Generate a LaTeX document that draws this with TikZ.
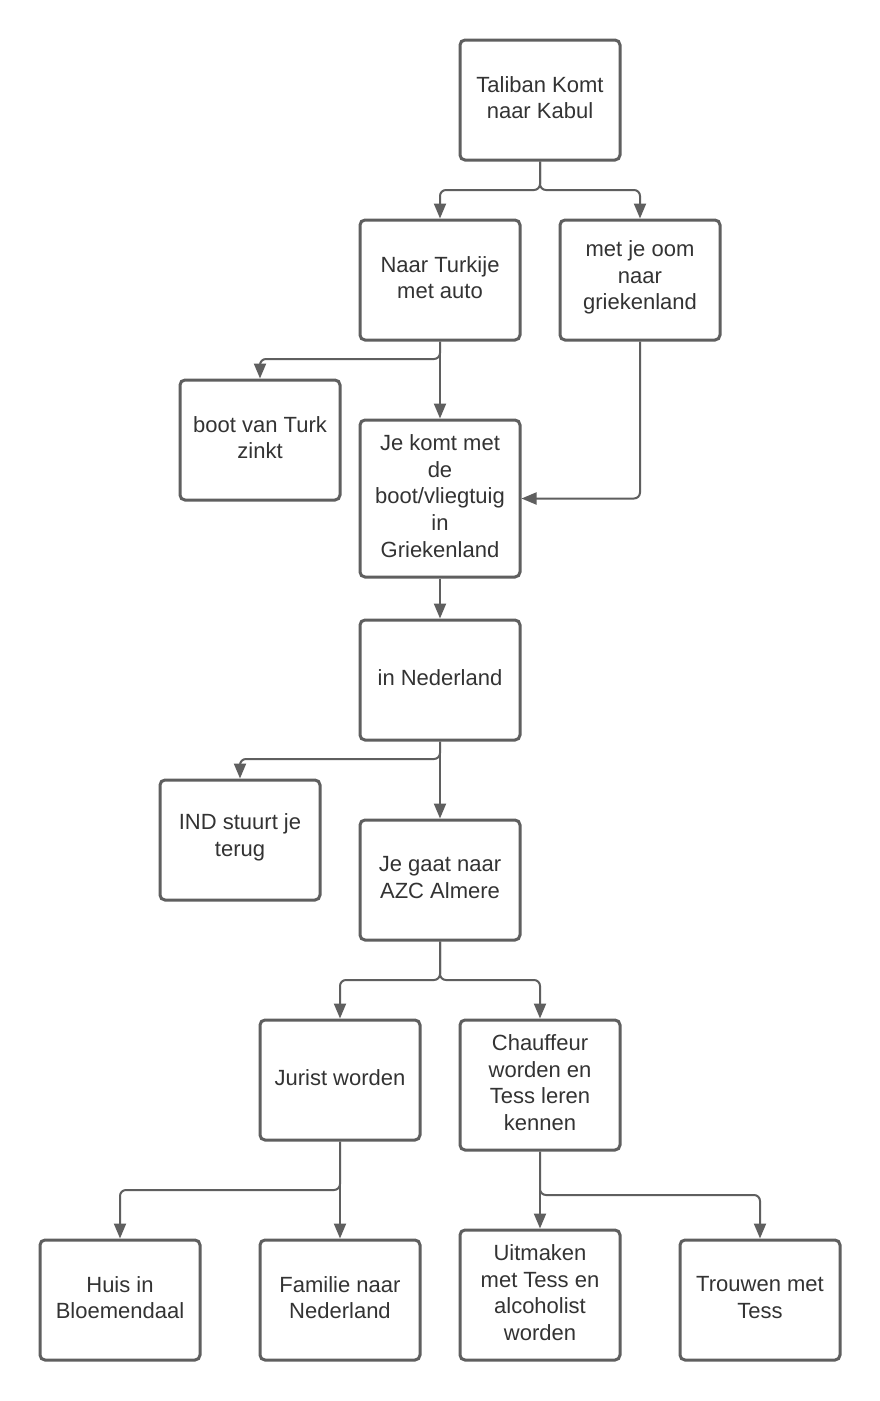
\documentclass[tikz,border=0pt]{standalone}
\usepackage{fontspec}
\setmainfont{Liberation Sans}
\usetikzlibrary{arrows.meta}
\definecolor{edgegray}{HTML}{5F5F5F}
\definecolor{txtgray}{HTML}{333333}
\begin{document}
\begin{tikzpicture}[x=1pt,y=-1pt,
  boxtext/.style={align=center, inner sep=0pt, text=txtgray,
    font=\fontsize{22}{26.6}\selectfont, yshift=2.5pt},
  box/.style={draw=edgegray, line width=3pt, rounded corners=5pt, fill=white,
    minimum width=160pt, minimum height=120pt, inner sep=0pt,
    label={[boxtext]center:{#1}}},
  conn/.style={draw=edgegray, line width=2pt, rounded corners=6pt,
    -{Triangle[length=15pt,width=12pt]}}]
\useasboundingbox (0,0) rectangle (880,1401);
\fill[white] (0,0) rectangle (880,1401);

% boxes
\node[box={Taliban Komt\\naar Kabul}] (tal)  at (540,100) {};
\node[box={Naar Turkije\\met auto}] (turk) at (440,280) {};
\node[box={met je oom\\naar\\griekenland}] (oom) at (640,280) {};
\node[box={boot van Turk\\zinkt}] (boot) at (260,440) {};
\node[box={Je komt met\\de\\boot/vliegtuig\\in\\Griekenland}, minimum height=157pt] (komt) at (440,498.5) {};
\node[box={in Nederland}] (ned) at (440,680) {};
\node[box={IND stuurt je\\terug}] (ind) at (240,840) {};
\node[box={Je gaat naar\\AZC Almere}] (azc) at (440,880) {};
\node[box={Jurist worden}] (jur) at (340,1080) {};
\node[box={Chauffeur\\worden en\\Tess leren\\kennen}, minimum height=130pt] (chf) at (540,1085) {};
\node[box={Huis in\\Bloemendaal}] (huis) at (120,1300) {};
\node[box={Familie naar\\Nederland}] (fam) at (340,1300) {};
\node[box={Uitmaken\\met Tess en\\alcoholist\\worden}, minimum height=130pt] (uit) at (540,1295) {};
\node[box={Trouwen met\\Tess}] (trw) at (760,1300) {};

% connectors
\draw[conn] (tal.south) -- (tal.south |- 0,190) -- (turk.north |- 0,190) -- (turk.north);
\draw[conn] (tal.south) -- (tal.south |- 0,190) -- (oom.north |- 0,190) -- (oom.north);

\draw[conn] (turk.south) -- (turk.south |- 0,359) -- (boot.north |- 0,359) -- (boot.north);
\draw[conn] (turk.south) -- (komt.north);
\draw[conn] (oom.south) -- (oom.south |- komt.east) -- (komt.east);

\draw[conn] (komt.south) -- (ned.north);

\draw[conn] (ned.south) -- (ned.south |- 0,759) -- (ind.north |- 0,759) -- (ind.north);
\draw[conn] (ned.south) -- (azc.north);

\draw[conn] (azc.south) -- (azc.south |- 0,980) -- (jur.north |- 0,980) -- (jur.north);
\draw[conn] (azc.south) -- (azc.south |- 0,980) -- (chf.north |- 0,980) -- (chf.north);

\draw[conn] (jur.south) -- (jur.south |- 0,1190) -- (huis.north |- 0,1190) -- (huis.north);
\draw[conn] (jur.south) -- (fam.north);

\draw[conn] (chf.south) -- (uit.north);
\draw[conn] (chf.south) -- (chf.south |- 0,1195) -- (trw.north |- 0,1195) -- (trw.north);
\end{tikzpicture}
\end{document}
